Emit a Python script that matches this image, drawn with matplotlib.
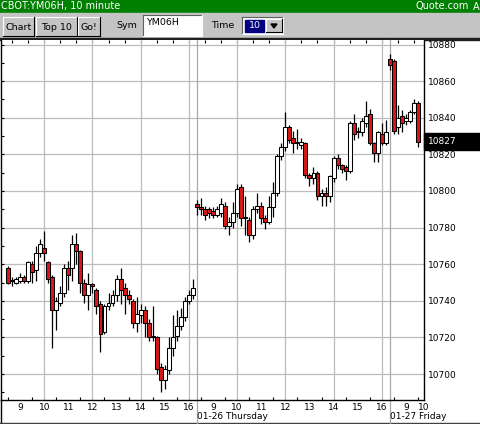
import matplotlib
matplotlib.use('Agg')
import matplotlib.pyplot as plt
from matplotlib.patches import Rectangle, Polygon
from matplotlib.transforms import blended_transform_factory
import numpy as np

plt.rcParams['font.family'] = 'DejaVu Sans'

# 10 minute bars, session 8:20 - 16:10 -> 48 bars a day
bars_per_day = 48
session_start = 8 * 60 + 20
bar_minutes = 10
day_first_bar = [1, 0, 0]          # first day starts at 8:30
day_dates = ['', '01-26 Thursday', '01-27 Friday']
hours = [9, 10, 11, 12, 13, 14, 15, 16]
grid_hours = [10, 12, 14, 16]
price_ticks = list(range(10700, 10881, 20))

d1_open = [10758, 10751, 10750, 10751, 10753, 10751, 10760, 10757, 10766, 10769, 10761, 10753,
           10735, 10739, 10744, 10758, 10758, 10771, 10767, 10750, 10743, 10749, 10746, 10738,
           10723, 10737, 10739, 10743, 10752, 10747, 10743, 10740, 10728, 10732, 10735, 10728,
           10720, 10720, 10704, 10697, 10702, 10714, 10721, 10726, 10731, 10740, 10743]
d1_high = [10759, 10753, 10753, 10755, 10754, 10762, 10762, 10770, 10774, 10778, 10762, 10754,
           10742, 10748, 10760, 10762, 10776, 10777, 10768, 10752, 10755, 10750, 10747, 10740,
           10738, 10744, 10746, 10754, 10758, 10750, 10746, 10741, 10742, 10738, 10737, 10730,
           10737, 10721, 10706, 10705, 10720, 10732, 10735, 10736, 10742, 10746, 10752]
d1_low = [10749, 10748, 10749, 10750, 10750, 10750, 10750, 10751, 10764, 10762, 10750, 10714,
          10724, 10737, 10742, 10746, 10751, 10760, 10744, 10739, 10735, 10744, 10733, 10712,
          10722, 10735, 10737, 10740, 10738, 10733, 10738, 10725, 10723, 10728, 10720, 10718,
          10718, 10700, 10690, 10692, 10700, 10710, 10718, 10724, 10729, 10738, 10741]
d1_close = [10750, 10751, 10752, 10753, 10751, 10761, 10756, 10766, 10771, 10766, 10752, 10735,
            10740, 10744, 10758, 10754, 10771, 10767, 10750, 10743, 10749, 10748, 10737, 10722,
            10737, 10739, 10743, 10752, 10746, 10743, 10741, 10728, 10733, 10735, 10728, 10720,
            10720, 10703, 10697, 10703, 10714, 10720, 10726, 10731, 10740, 10743, 10747]

d2_open = [10793, 10791, 10790, 10790, 10789, 10787, 10788, 10792, 10781, 10783, 10788, 10802,
           10785, 10784, 10776, 10790, 10792, 10785, 10783, 10791, 10799, 10819, 10824, 10835,
           10829, 10827, 10825, 10826, 10809, 10807, 10810, 10797, 10799, 10797, 10807, 10818,
           10814, 10813, 10811, 10837, 10832, 10832, 10837, 10842, 10826, 10821, 10831, 10826]
d2_high = [10795, 10796, 10792, 10791, 10791, 10792, 10796, 10794, 10786, 10794, 10804, 10804,
           10797, 10786, 10792, 10799, 10794, 10787, 10797, 10805, 10820, 10826, 10843, 10836,
           10833, 10834, 10829, 10827, 10810, 10813, 10811, 10801, 10802, 10809, 10819, 10820,
           10815, 10814, 10838, 10842, 10835, 10840, 10849, 10845, 10827, 10833, 10837, 10839]
d2_low = [10787, 10787, 10784, 10785, 10785, 10786, 10786, 10779, 10776, 10780, 10786, 10781,
          10776, 10772, 10774, 10788, 10782, 10779, 10782, 10786, 10797, 10817, 10822, 10826,
          10821, 10823, 10823, 10807, 10803, 10804, 10795, 10792, 10792, 10794, 10805, 10812,
          10810, 10806, 10810, 10828, 10829, 10830, 10835, 10825, 10816, 10816, 10825, 10825]
d2_close = [10791, 10790, 10787, 10788, 10787, 10790, 10793, 10781, 10783, 10788, 10801, 10785,
            10786, 10776, 10790, 10792, 10785, 10783, 10791, 10799, 10819, 10824, 10835, 10828,
            10826, 10826, 10827, 10809, 10807, 10810, 10797, 10799, 10797, 10808, 10818, 10814,
            10812, 10811, 10837, 10831, 10833, 10838, 10841, 10826, 10821, 10832, 10826, 10832]

d3_open = [10872, 10871, 10835, 10841, 10838, 10838, 10843, 10848]
d3_high = [10875, 10872, 10847, 10844, 10842, 10844, 10850, 10849]
d3_low = [10866, 10831, 10831, 10832, 10836, 10837, 10842, 10824]
d3_close = [10869, 10833, 10840, 10837, 10840, 10843, 10848, 10827]

days = [(d1_open, d1_high, d1_low, d1_close),
        (d2_open, d2_high, d2_low, d2_close),
        (d3_open, d3_high, d3_low, d3_close)]


def hour_pos(day, hour):
    return day * bars_per_day + (hour * 60 - session_start) / bar_minutes


xs, o, h, l, c = [], [], [], [], []
for d, (do, dh, dl, dc) in enumerate(days):
    for i in range(len(do)):
        xs.append(d * bars_per_day + day_first_bar[d] + i)
    o += do
    h += dh
    l += dl
    c += dc
xs = np.array(xs)
o, h, l, c = map(np.array, (o, h, l, c))

fig = plt.figure(figsize=(4.8, 4.24), dpi=100)

# window chrome, drawn in pixel coordinates
chrome = fig.add_axes([0, 0, 1, 1], zorder=0)
chrome.axis('off')
chrome.add_patch(Rectangle((0, 0), 480, 13, color='#008000'))
chrome.text(1, 6.5, 'CBOT:YM06H, 10 minute', color='white', fontsize=7, va='center')
chrome.text(416, 6.5, 'Quote.com', color='white', fontsize=7, va='center')
chrome.text(473, 6.5, 'A', color='white', fontsize=7, va='center')
chrome.add_patch(Rectangle((0, 13), 480, 25, color='#c4c4c4'))
chrome.add_patch(Rectangle((0, 37.5), 480, 2.5, color='#202020'))


def bevel(x0, y0, x1, y1, light, dark):
    chrome.plot([x0, x1], [y0, y0], color=light, lw=0.8)
    chrome.plot([x0, x0], [y0, y1], color=light, lw=0.8)
    chrome.plot([x0, x1], [y1, y1], color=dark, lw=0.8)
    chrome.plot([x1, x1], [y0, y1], color=dark, lw=0.8)


for x0, x1, label in [(3, 34, 'Chart'), (36, 77, 'Top 10'), (78, 100, 'Go!')]:
    bevel(x0, 17, x1, 36, 'white', 'black')
    chrome.text((x0 + x1) / 2, 27, label, fontsize=6.8, ha='center', va='center')

chrome.text(116, 26, 'Sym', fontsize=6.8, va='center')
chrome.add_patch(Rectangle((143, 15), 59, 21, facecolor='white', edgecolor='none'))
bevel(143, 15, 202, 36, '#606060', 'white')
chrome.text(146, 22.5, 'YM06H', fontsize=6.8, va='center')
chrome.text(211, 26, 'Time', fontsize=6.8, va='center')
chrome.add_patch(Rectangle((242, 17), 41, 17, facecolor='white', edgecolor='none'))
bevel(242, 17, 283, 34, '#606060', 'white')
chrome.add_patch(Rectangle((245, 19.5), 19, 12, color='#000080'))
chrome.text(254.5, 25.5, '10', fontsize=6.8, color='white', ha='center', va='center')
chrome.add_patch(Rectangle((266, 19), 16, 13, color='#c4c4c4'))
bevel(266, 19, 282, 32, 'white', 'black')
chrome.add_patch(Polygon([(271, 24), (277, 24), (274, 28)], color='black'))
chrome.plot([0.5, 0.5], [400, 424], color='black', lw=1)
chrome.plot([0, 480], [423.3, 423.3], color='#404040', lw=1)
chrome.set_xlim(0, 480)
chrome.set_ylim(424, 0)

# price chart
ax = fig.add_axes([1 / 480, 24 / 424, 423 / 480, 360 / 424], zorder=1)
xmin, xmax = -0.75, 104.5
ax.set_xlim(xmin, xmax)
ax.set_ylim(10685.8, 10882.5)

for p in price_ticks:
    ax.axhline(p, color='#bcbcbc', lw=0.9, zorder=1)
for d in range(3):
    for hr in grid_hours:
        if hour_pos(d, hr) < xmax:
            ax.axvline(hour_pos(d, hr), color='#bcbcbc', lw=0.9, zorder=1)
for d in (1, 2):
    ax.axvline(d * bars_per_day, ymin=-23.3 / 360, ymax=1, color='#a8a8a8', lw=0.9,
               clip_on=False, zorder=1)

up = c >= o
colors = np.where(up, 'white', '#d81818')
ax.vlines(xs, l, h, color='black', lw=0.9, zorder=3)
ax.bar(xs, np.maximum(np.abs(c - o), 0.5), width=0.98, bottom=np.minimum(o, c),
       color=colors, edgecolor='black', linewidth=0.75, zorder=4)

# axes and ticks
tick_pos, tick_lab = [], []
for d in range(3):
    for hr in hours:
        if hour_pos(d, hr) <= xmax:
            tick_pos.append(hour_pos(d, hr))
            tick_lab.append(str(hr))
ax.set_xticks(tick_pos)
ax.set_xticklabels(tick_lab)
ax.set_xticks([hour_pos(d, hr + 0.5) for d in range(3) for hr in range(8, 16)
               if hour_pos(d, hr + 0.5) < xmax], minor=True)
ax.tick_params(axis='x', which='major', length=0, pad=2, labelsize=6.5)
ax.tick_params(axis='x', which='minor', direction='in', length=2.5, width=0.8)
# hour label that falls on the right border
ax.annotate('10', xy=(1, 0), xycoords='axes fraction', xytext=(0, -2),
            textcoords='offset points', ha='center', va='top', fontsize=6.5)

ax.set_yticks(price_ticks)
ax.set_yticks(range(10690, 10881, 10), minor=True)
ax.tick_params(axis='y', which='both', left=True, right=False, labelleft=False,
               labelright=True, direction='in', length=2.5, width=0.8, pad=3, labelsize=6.5)

top = ax.secondary_xaxis('top')
top.set_xticks(np.arange(2, xmax, 4))
top.tick_params(direction='in', length=2.5, width=0.8, labeltop=False)
top.spines['top'].set_visible(False)

for side in ('left', 'bottom', 'right'):
    ax.spines[side].set_color('black')
    ax.spines[side].set_linewidth(1)
ax.spines['top'].set_visible(False)

for d in range(1, 3):
    ax.annotate(day_dates[d], xy=(d * bars_per_day, 0), xycoords=('data', 'axes fraction'),
                xytext=(0.3, -8.8), textcoords='offset points', ha='left', va='top',
                fontsize=6.5)

# last price marker
trans = blended_transform_factory(ax.transAxes, ax.transData)
last = c[-1]
ax.add_patch(Rectangle((1.0, last - 4.7), 56 / 423, 9.4, transform=trans, color='black',
                       clip_on=False, zorder=5))
ax.text(1.0 + 4 / 423, last + 0.3, str(last), transform=trans, color='white', va='center',
        ha='left', fontsize=6.5, zorder=6, clip_on=False)

fig.savefig('out.png', dpi=100)
